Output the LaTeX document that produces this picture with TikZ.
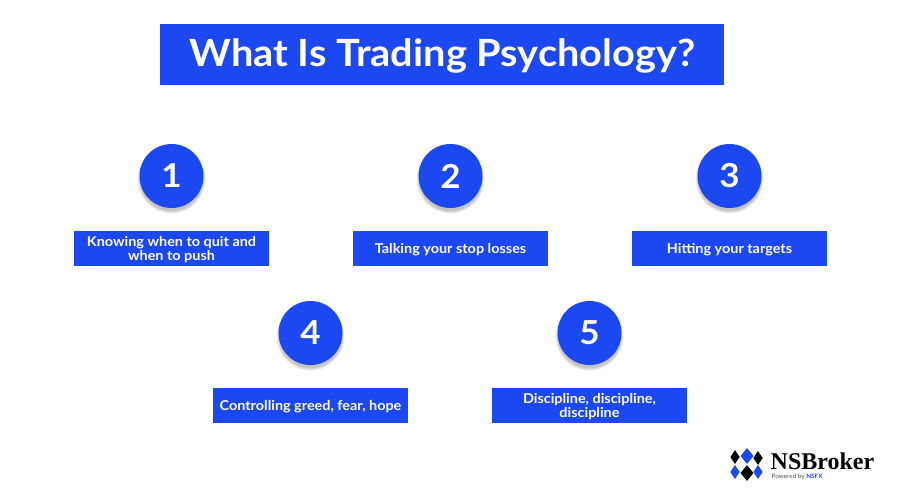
\documentclass[tikz,border=0pt]{standalone}
\usepackage{fontspec}
\setmainfont[FakeStretch=1.06]{Lato}
\newfontfamily\logofont{Liberation Serif}
\usetikzlibrary{shapes.geometric,shadows}
\definecolor{tradeblue}{HTML}{1B48F0}
\tikzset{
    softlayer/.style={general shadow={shadow xshift=0pt, shadow yshift=-3.5pt, shadow scale=#1, opacity=0.05, fill=black}},
    numcircle/.style={circle, fill=tradeblue, text=white, minimum size=64pt, inner sep=0pt, font=\bfseries\fontsize{33}{33}\selectfont,
        softlayer=1.06, softlayer=1.04, softlayer=1.02, softlayer=1.0, softlayer=0.98},
    labelbox/.style={fill=tradeblue, minimum width=195pt, minimum height=35pt, inner sep=0pt},
    labeltext/.style={text=white, inner sep=0pt, align=center, yshift=-0.8pt, font=\bfseries\fontsize{13.6}{14}\selectfont},
    logodiamond/.style={diamond, minimum width=9.5pt, minimum height=14pt, inner sep=0pt},
    bigdiamond/.style={logodiamond, minimum width=13pt, minimum height=16pt}
}
\begin{document}
\begin{tikzpicture}[x=1pt,y=-1pt]
\useasboundingbox (0,0) rectangle (900,500);

\node [fill=tradeblue, minimum width=564pt, minimum height=61pt, inner sep=0pt] (title) at (442,54.5) {};
\node [text=white, inner sep=0pt, font=\bfseries\fontsize{37.5}{37.5}\selectfont] (heading) at (442.5,56) {What Is Trading Psychology?};

% top row
\node [numcircle] (c1) at (171.5,176) {1};
\node [numcircle] (c2) at (450.5,176) {2};
\node [numcircle] (c3) at (729.5,176) {3};
\node [labelbox] (l1) at (171.5,248.5) {};
\node [labelbox] (l2) at (450.5,248.5) {};
\node [labelbox] (l3) at (729.5,248.5) {};
\node [labeltext] (t1) at (l1) {Knowing when to quit and\\when to push};
\node [labeltext] (t2) at (l2) {Talking your stop losses};
\node [labeltext] (t3) at (l3) {Hitting your targets};

% bottom row
\node [numcircle] (c4) at (310.5,333) {4};
\node [numcircle] (c5) at (589.5,333) {5};
\node [labelbox] (l4) at (310.5,405.5) {};
\node [labelbox] (l5) at (589.5,405.5) {};
\node [labeltext] (t4) at (l4) {Controlling greed, fear, hope};
\node [labeltext] (t5) at (l5) {Discipline, discipline,\\discipline};

% logo
\node [logodiamond, fill=black] (d1) at (735,457) {};
\node [bigdiamond, fill=tradeblue] (d2) at (747,456) {};
\node [logodiamond, fill=black] (d3) at (758,458) {};
\node [logodiamond, fill=tradeblue] (d4) at (735,472) {};
\node [bigdiamond, fill=black] (d5) at (747,473) {};
\node [logodiamond, fill=tradeblue] (d6) at (758,472) {};
\node [anchor=west, inner sep=0pt, font=\logofont\bfseries\fontsize{24}{24}\selectfont] (brand) at (770.5,461.5) {NSBroker};
\node [anchor=west, inner sep=0pt, text=black!70, font=\fontsize{6}{6}\selectfont] (powered) at (771.5,477) {Powered by \textcolor{tradeblue}{\bfseries NSFX}};

\end{tikzpicture}
\end{document}
